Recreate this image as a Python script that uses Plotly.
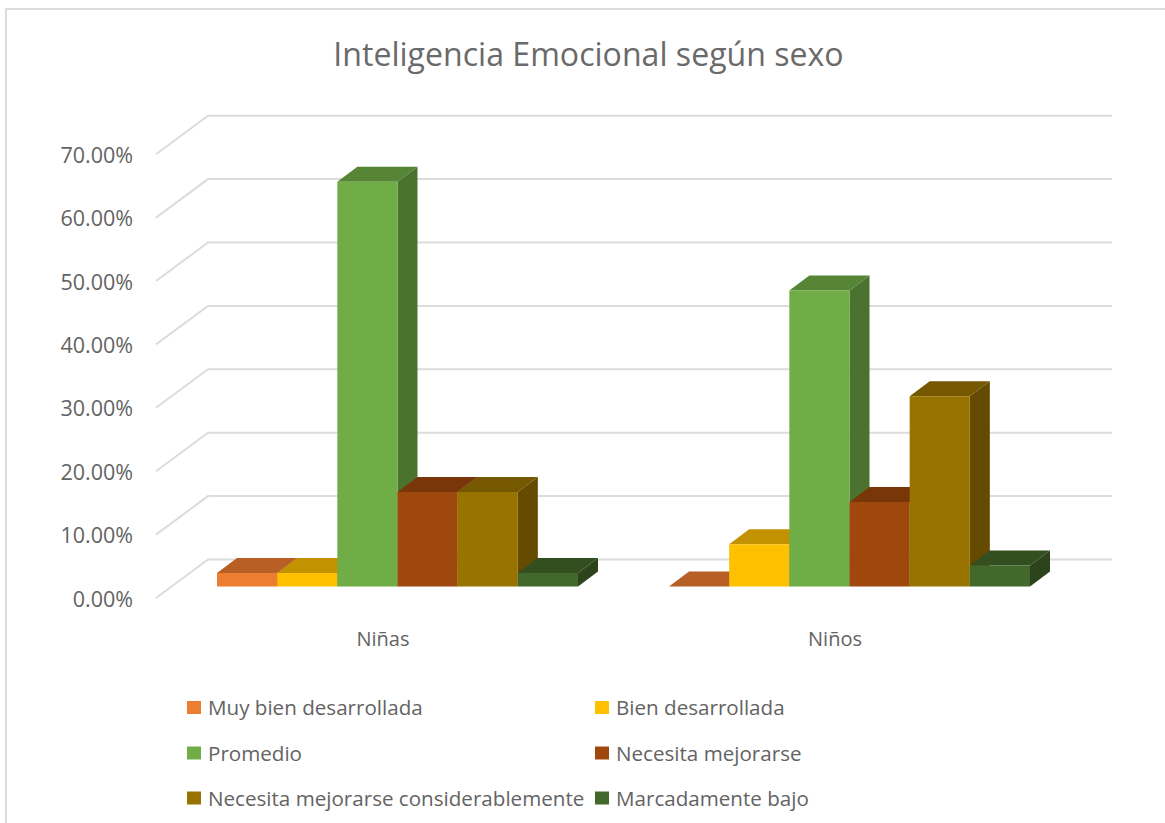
import plotly.graph_objects as go

TITLE = "Inteligencia Emocional según sexo"
GROUPS = ["Niñas", "Niños"]
SERIES = ["Muy bien desarrollada", "Bien desarrollada", "Promedio",
          "Necesita mejorarse", "Necesita mejorarse considerablemente", "Marcadamente bajo"]
NINAS = [2.13, 2.13, 63.83, 14.89, 14.89, 2.13]
NINOS = [0.0, 6.67, 46.67, 13.33, 30.0, 3.33]
Y_TICKS = [0, 10, 20, 30, 40, 50, 60, 70]
FRONT = ["#ED7D31", "#FFC000", "#70AD47", "#9E480E", "#997300", "#43682B"]
TOP = ["#B85F26", "#C39200", "#568536", "#793709", "#755800", "#334F20"]
SIDE = ["#9C5020", "#A67C00", "#4B722E", "#672F08", "#644B00", "#2C431C"]
TEXT = "#636363"

W, H = 1165, 823
L, R, T, B = 134, 1120, 100, 625      # plot area, px
PX_PER_X, X0_PX = 452.0, 397.5        # one group = 452 px, group 0 centre
PX_PER_V, V0_PX = 6.34, 586.5         # 1 % = 6.34 px, bar base

x_range = [(L - X0_PX) / PX_PER_X, (R - X0_PX) / PX_PER_X]
y_range = [(V0_PX - B) / PX_PER_V, (V0_PX - T) / PX_PER_V]

BARS_SPAN = 361 / PX_PER_X
BAR_W = BARS_SPAN / len(SERIES)
DX = 20 / PX_PER_X                    # 3-D depth of a bar
DV = 15 / PX_PER_V

FLOOR_DV_BACK = (V0_PX - 559.5) / PX_PER_V
FLOOR_DV_FRONT = (V0_PX - 598.0) / PX_PER_V
LABEL_DV = (V0_PX - 599.0) / PX_PER_V
GRID_X = [(p - X0_PX) / PX_PER_X for p in (156, 208, 1112)]


def paper_x(px):
    return (px - L) / (R - L)


def paper_y(py):
    return (B - py) / (B - T)


fig = go.Figure()

# Wall and floor gridlines
gx, gy = [], []
for v in Y_TICKS:
    gx += GRID_X + [None]
    gy += [v + FLOOR_DV_FRONT, v + FLOOR_DV_BACK, v + FLOOR_DV_BACK, None]
fig.add_trace(go.Scatter(x=gx, y=gy, mode="lines", line=dict(color="#DCDCDC", width=2),
                         showlegend=False, hoverinfo="skip"))

# Side and top faces, painted left to right on the lower axes
for i in range(len(SERIES)):
    sx, sy, tx, ty = [], [], [], []
    for g, vals in enumerate((NINAS, NINOS)):
        a = g - BARS_SPAN / 2 + i * BAR_W
        b = a + BAR_W
        v = vals[i]
        if v > 0:
            sx += [b, b + DX, b + DX, b, b, None]
            sy += [0, DV, v + DV, v, 0, None]
        tx += [a, b, b + DX, a + DX, a, None]
        ty += [v, v, v + DV, v + DV, v, None]
    fig.add_trace(go.Scatter(x=sx, y=sy, mode="lines", fill="toself", fillcolor=SIDE[i],
                             line=dict(width=0, color=SIDE[i]), showlegend=False, hoverinfo="skip"))
    fig.add_trace(go.Scatter(x=tx, y=ty, mode="lines", fill="toself", fillcolor=TOP[i],
                             line=dict(width=0, color=TOP[i]), showlegend=False, hoverinfo="skip"))

# Front faces on overlaying axes so they cover the faces behind them
for i, name in enumerate(SERIES):
    fig.add_trace(go.Bar(name=name, x=[0, 1], y=[NINAS[i], NINOS[i]], marker=dict(color=FRONT[i], line=dict(width=0)),
                         xaxis="x2", yaxis="y2", showlegend=False,
                         hovertemplate="%{y:.2f}%<extra>" + name + "</extra>"))

# Legend laid out as in the reference: two columns, three rows
LEG_COL_PX = [187, 595]
LEG_ROW_PX = [707.5, 753, 798]
shapes, annotations = [], []
for i, name in enumerate(SERIES):
    cx = LEG_COL_PX[i % 2]
    cy = LEG_ROW_PX[i // 2]
    shapes.append(dict(type="rect", xref="paper", yref="paper", layer="above",
                       x0=paper_x(cx), x1=paper_x(cx + 14), y0=paper_y(cy + 6.5), y1=paper_y(cy - 6.5),
                       fillcolor=FRONT[i], line=dict(width=0)))
    annotations.append(dict(text=name, xref="paper", yref="paper", x=paper_x(cx + 21), y=paper_y(cy),
                            xanchor="left", yanchor="middle", showarrow=False, xshift=-2,
                            font=dict(family="Open Sans", size=20.6, color=TEXT)))

# Outer chart frame: only the top and left edges are in view
shapes.append(dict(type="path", xref="paper", yref="paper", layer="below",
                   path=f"M {paper_x(6)} {paper_y(H + 5)} L {paper_x(6)} {paper_y(9)} L {paper_x(W + 5)} {paper_y(9)}",
                   line=dict(color="#DCDCDC", width=2)))

fig.update_layout(
    width=W, height=H, autosize=False,
    margin=dict(l=L, r=W - R, t=T, b=H - B),
    paper_bgcolor="#FFFFFF", plot_bgcolor="rgba(0,0,0,0)",
    barmode="group", bargap=1 - BARS_SPAN, bargroupgap=0,
    showlegend=False,
    title=dict(text=TITLE, x=588.5 / W, y=1 - 55 / H, xref="container",
               xanchor="center", yanchor="middle",
               font=dict(family="Open Sans", size=32.1, color="#6A6A6A")),
    xaxis=dict(range=x_range, showgrid=False, zeroline=False, showline=False, ticks="",
               tickvals=[g + (383 - X0_PX) / PX_PER_X for g in range(2)], ticktext=GROUPS,
               tickfont=dict(family="Open Sans", size=20, color=TEXT)),
    yaxis=dict(range=y_range, showgrid=False, zeroline=False, showline=False, ticks="",
               tickvals=[v + LABEL_DV for v in Y_TICKS], ticktext=[f"{v:.2f}%" for v in Y_TICKS],
               tickfont=dict(family="Open Sans", size=21.5, color=TEXT)),
    xaxis2=dict(range=x_range, overlaying="x", visible=False),
    yaxis2=dict(range=y_range, overlaying="y", visible=False),
    shapes=shapes, annotations=annotations,
)

# The browser's default 8 px body margin would push the chart off its place
fig.write_html("out.html", config=dict(displayModeBar=False),
               post_script="document.body.style.margin='0';document.body.style.overflow='hidden';")
